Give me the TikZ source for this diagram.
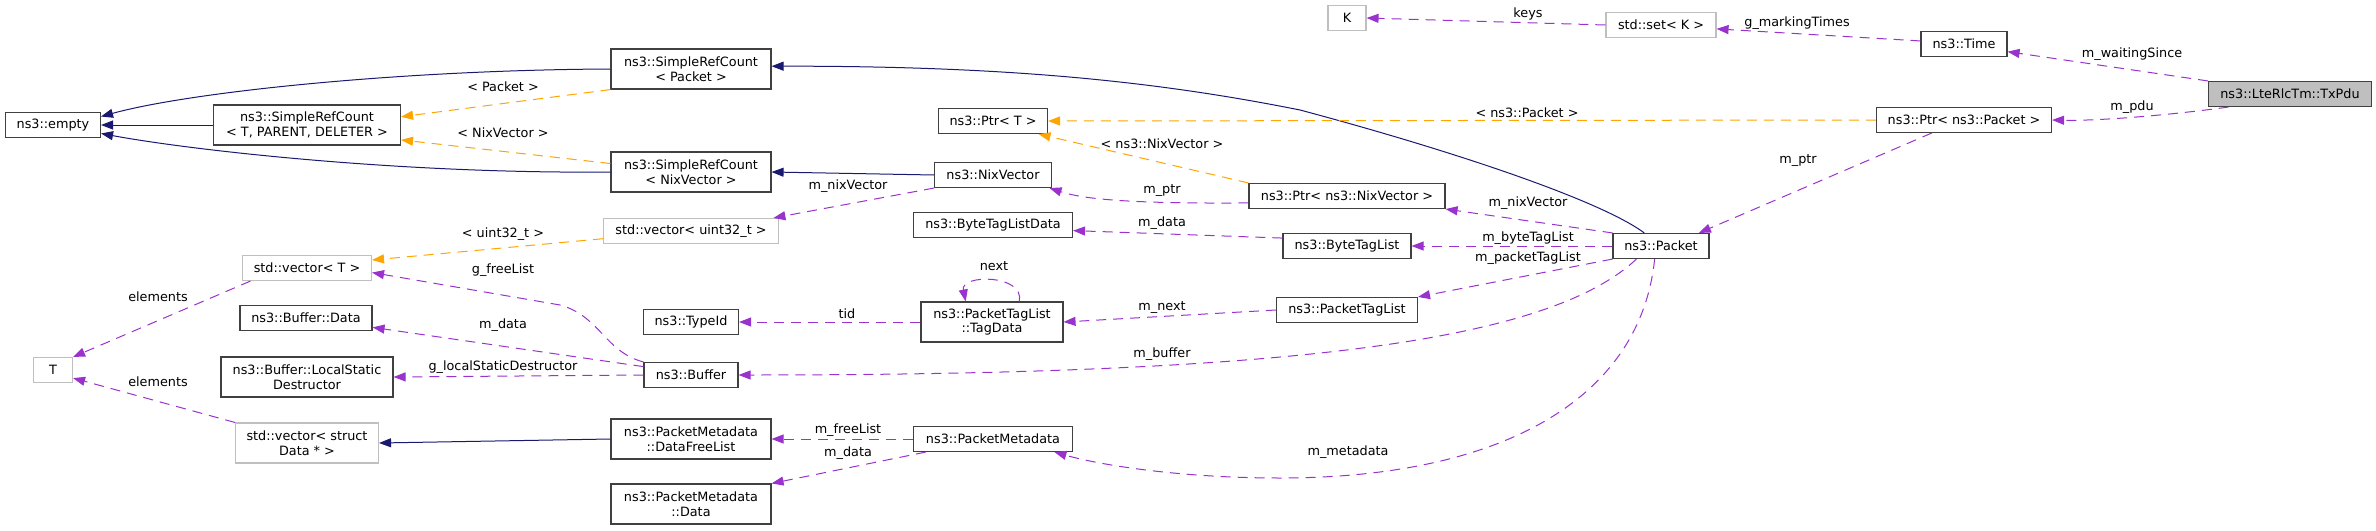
\documentclass[tikz,border=0pt]{standalone}
\usepackage{fontspec}
\newfontfamily\dgfamily{DejaVu Sans}
\usepackage{xcolor}
\definecolor{inhnavy}{HTML}{191970}
\definecolor{membpurple}{HTML}{9A32CD}
\definecolor{tmplorange}{HTML}{FFA500}
\definecolor{boxborder}{HTML}{404040}
\definecolor{extgray}{HTML}{BFBFBF}
\usetikzlibrary{arrows.meta,positioning}
\newcommand{\dgfont}{\dgfamily\fontsize{6.4pt}{7.4pt}\selectfont}
\tikzset{
  cls/.style={draw=boxborder,line width=0.55pt,fill=white,inner sep=1pt,minimum height=12.5pt,align=center,font=\dgfont},
  extcls/.style={cls,draw=extgray},
  curcls/.style={cls,fill=extgray},
  twoline/.style={minimum height=20pt},
  lbl/.style={inner sep=0pt,font=\dgfont},
  inh/.style={draw=inhnavy,line width=0.5pt,-{Triangle[length=6pt,width=4.5pt]}},
  memb/.style={draw=membpurple,line width=0.5pt,dash pattern=on 5pt off 3.5pt,-{Triangle[length=6pt,width=4.5pt]}},
  tmpl/.style={memb,draw=tmplorange}
}

\begin{document}
\begin{tikzpicture}[x=0.5pt,y=-0.5pt]
  \useasboundingbox (0,0) rectangle (2376,530);
  % Left column
  \node[cls,minimum width=47.5pt] (empty) at (53,125) {ns3::empty};
  \node[extcls,minimum width=19.5pt] (T) at (53,370) {T};
  % Base templates
  \node[cls,twoline,minimum width=93.5pt] (srcT) at (307,125) {ns3::SimpleRefCount\\< T, PARENT, DELETER >};
  \node[extcls,minimum width=64.5pt] (vecT) at (307,268) {std::vector< T >};
  \node[cls,minimum width=66pt] (bufData) at (306,318) {ns3::Buffer::Data};
  \node[cls,twoline,minimum width=86pt] (lsd) at (307,377) {ns3::Buffer::LocalStatic\\Destructor};
  \node[extcls,twoline,minimum width=71.5pt] (vecData) at (307,443) {std::vector< struct\\Data * >};
  % Third column
  \node[cls,twoline,minimum width=80pt] (srcPkt) at (691,69) {ns3::SimpleRefCount\\< Packet >};
  \node[cls,twoline,minimum width=80pt] (srcNix) at (691,172) {ns3::SimpleRefCount\\< NixVector >};
  \node[extcls,minimum width=87.5pt] (vecU32) at (691,231) {std::vector< uint32\_t >};
  \node[cls,minimum width=47.5pt] (typeId) at (691,322) {ns3::TypeId};
  \node[cls,minimum width=47pt] (buffer) at (691,375) {ns3::Buffer};
  \node[cls,twoline,minimum width=80pt] (dfl) at (691,439) {ns3::PacketMetadata\\::DataFreeList};
  \node[cls,twoline,minimum width=80pt] (pmdData) at (691,504) {ns3::PacketMetadata\\::Data};
  % Fourth column
  \node[cls,minimum width=54.5pt] (ptrT) at (993,121) {ns3::Ptr< T >};
  \node[cls,minimum width=58.5pt] (nix) at (993,175) {ns3::NixVector};
  \node[cls,minimum width=79.5pt] (btld) at (993,225) {ns3::ByteTagListData};
  \node[cls,twoline,minimum width=71pt] (tagData) at (992,322) {ns3::PacketTagList\\::TagData};
  \node[cls,minimum width=79.5pt] (pmd) at (993,439) {ns3::PacketMetadata};
  % Fifth column
  \node[extcls,minimum width=19pt] (K) at (1347,18) {K};
  \node[cls,minimum width=98pt] (ptrNix) at (1347,196) {ns3::Ptr< ns3::NixVector >};
  \node[cls,minimum width=64pt] (btl) at (1347,246) {ns3::ByteTagList};
  \node[cls,minimum width=70.5pt] (ptl) at (1347,310) {ns3::PacketTagList};
  % Right side
  \node[extcls,minimum width=55pt] (setK) at (1661,25) {std::set< K >};
  \node[cls,minimum width=48pt] (pkt) at (1661,246) {ns3::Packet};
  \node[cls,minimum width=43pt] (time) at (1964,44) {ns3::Time};
  \node[cls,minimum width=87.5pt] (ptrPkt) at (1964,120) {ns3::Ptr< ns3::Packet >};
  \node[curcls,minimum width=81.5pt] (txpdu) at (2290,94) {ns3::LteRlcTm::TxPdu};

  % Inheritance
  \draw[inh] (srcPkt.west) .. controls (400,70) and (190,92) .. (empty.10);
  \draw[inh] (srcT.west) -- (empty.east);
  \draw[inh] (srcNix.west) .. controls (400,174) and (190,150) .. (empty.-10);
  \draw[inh] (pkt.142) .. controls (1600,200) and (1450,150) .. (1300,110) .. controls (1150,80) and (1000,66) .. (srcPkt.2);
  \draw[inh] (nix.west) -- (srcNix.east);
  \draw[inh] (dfl.west) -- (vecData.east);

  % Template instances
  \draw[tmpl] (srcPkt.south west) -- (srcT.5);
  \node[lbl] (lPacket) at (503,87) {< Packet >};
  \draw[tmpl] (srcNix.174) -- (srcT.-9);
  \node[lbl] (lNixVector) at (503,133) {< NixVector >};
  \draw[tmpl] (vecU32.185) -- (vecT.7);
  \node[lbl] (lUint) at (503,234) {< uint32\_t >};
  \draw[tmpl] (ptrPkt.west) -- (ptrT.east);
  \node[lbl] (lNsPacket) at (1527,113) {< ns3::Packet >};
  \draw[tmpl] (ptrNix.north west) -- (ptrT.-16);
  \node[lbl] (lNsNix) at (1162,144) {< ns3::NixVector >};

  % Members
  \draw[memb] (nix.south west) -- (vecU32.9);
  \node[lbl] (lNixVec) at (848,186) {m\_nixVector};
  \draw[memb] (ptrNix.184) .. controls (1120,204) and (1080,198) .. (nix.-13);
  \node[lbl] (lPtrNix) at (1162,191) {m\_ptr};
  \draw[memb] (btl.173) -- (btld.-4);
  \node[lbl] (lBtlData) at (1162,223) {m\_data};
  \draw[memb] (pkt.north west) -- (ptrNix.south east);
  \node[lbl] (lPktNix) at (1528,203) {m\_nixVector};
  \draw[memb] (pkt.west) -- (btl.east);
  \node[lbl] (lByteTag) at (1528,238) {m\_byteTagList};
  \draw[memb] (pkt.south west) -- (ptl.north east);
  \node[lbl] (lPacketTag) at (1528,258) {m\_packetTagList};
  \draw[memb] (ptl.west) -- (tagData.east);
  \node[lbl] (lNext) at (1162,308) {m\_next};
  \draw[memb] (tagData.37) .. controls (1025,274) and (960,274) .. (tagData.142);
  \node[lbl] (lSelf) at (994,266) {next};
  \draw[memb] (tagData.west) -- (typeId.east);
  \node[lbl] (lTid) at (847,314) {tid};
  \draw[memb] (pkt.208) .. controls (1550,340) and (1300,375) .. (buffer.east);
  \node[lbl] (lBuffer) at (1162,354) {m\_buffer};
  \draw[memb] (pkt.244) .. controls (1640,400) and (1500,478) .. (1280,478) .. controls (1180,478) and (1100,465) .. (pmd.-12);
  \node[lbl] (lMeta) at (1348,452) {m\_metadata};
  \draw[memb] (pmd.west) -- (dfl.east);
  \node[lbl] (lFree) at (848,430) {m\_freeList};
  \draw[memb] (pmd.191) -- (pmdData.north east);
  \node[lbl] (lPmdData) at (848,453) {m\_data};
  \draw[memb] (buffer.north west) .. controls (605,352) and (600,316) .. (560,305) -- (vecT.-4);
  \node[lbl] (lGFree) at (503,270) {g\_freeList};
  \draw[memb] (buffer.170) -- (bufData.-8);
  \node[lbl] (lBufData) at (503,325) {m\_data};
  \draw[memb] (buffer.west) -- (lsd.east);
  \node[lbl] (lLocal) at (503,367) {g\_localStaticDestructor};
  \draw[memb] (vecT.193) -- (T.north east);
  \node[lbl] (lElemA) at (158,297) {elements};
  \draw[memb] (vecData.north west) -- (T.-22);
  \node[lbl] (lElemB) at (158,382) {elements};
  \draw[memb] (setK.west) -- (K.east);
  \node[lbl] (lKeys) at (1528,14) {keys};
  \draw[memb] (time.176) -- (setK.-4);
  \node[lbl] (lMarking) at (1797,23) {g\_markingTimes};
  \draw[memb] (txpdu.north west) -- (time.-10);
  \node[lbl] (lWaiting) at (2132,54) {m\_waitingSince};
  \draw[memb] (txpdu.192) .. controls (2170,115) and (2100,121) .. (ptrPkt.east);
  \node[lbl] (lPdu) at (2132,107) {m\_pdu};
  \draw[memb] (ptrPkt.202) -- (pkt.19);
  \node[lbl] (lPtrPkt) at (1798,161) {m\_ptr};
\end{tikzpicture}
\end{document}
